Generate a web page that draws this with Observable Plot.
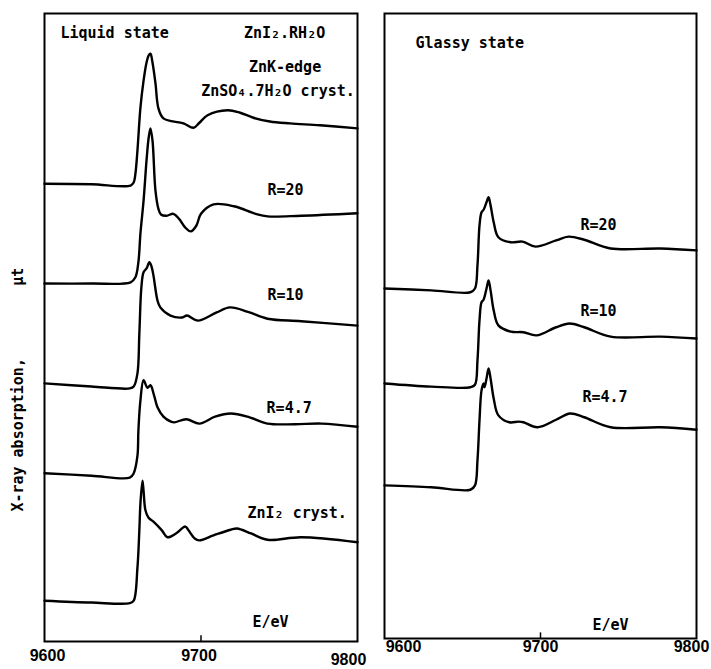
<!DOCTYPE html>
<html>
<head>
<meta charset="utf-8">
<script src="https://cdn.jsdelivr.net/npm/d3@7"></script>
<script src="https://cdn.jsdelivr.net/npm/@observablehq/plot@0.6"></script>
<style>
  html, body { margin: 0; padding: 0; background: #fff; }
  #wrap { display: flex; width: 711px; height: 669px; }
  svg { overflow: visible; }
</style>
</head>
<body>
<div id="wrap"></div>
<script>
// ---- Data: X-ray absorption (arbitrary units, stacked) vs photon energy E/eV ----
const xTicks = [9600, 9700, 9800];

// Liquid state, ZnI2.RH2O, Zn K-edge
const liquidZnSO4 = [
  [9600,7.29],[9630,7.28],[9655,7.26],[9657,7.31],[9658.1,7.45],[9659.4,7.82],[9661.3,8.50],
  [9663.3,8.93],[9665.2,9.22],[9666.5,9.33],[9667.7,9.36],[9669,9.22],[9670.9,8.89],[9672.8,8.49],
  [9676,8.33],[9688.8,8.25],[9695.2,8.18],[9699,8.26],[9704.2,8.38],[9717,8.46],[9725,8.42],
  [9733.5,8.34],[9744,8.28],[9757,8.25],[9776,8.22],[9800,8.17]
];
const liquidR20 = [
  [9600,5.70],[9630,5.70],[9655,5.72],[9658.1,5.80],[9660,6.04],[9661.3,6.50],[9663.3,7.02],
  [9665.2,7.66],[9666.5,8.01],[9667.7,8.17],[9669,7.98],[9670.9,7.18],[9672.8,6.89],[9674.4,6.80],
  [9678,6.78],[9682.3,6.81],[9686,6.73],[9690,6.59],[9693.5,6.53],[9697,6.62],[9700,6.81],
  [9708,6.96],[9721,6.93],[9735,6.81],[9742.5,6.77],[9764,6.78],[9800,6.82]
];
const liquidR10 = [
  [9600,4.11],[9630,4.06],[9654.5,4.03],[9657,4.06],[9659.4,4.27],[9660.6,4.90],[9661.9,5.64],
  [9663.3,5.88],[9665.2,5.94],[9667,6.04],[9668.4,5.97],[9669.6,5.83],[9672.2,5.43],[9674,5.32],
  [9680.5,5.19],[9688,5.16],[9691,5.19],[9698,5.11],[9710,5.24],[9718.5,5.32],[9730,5.25],
  [9742.5,5.14],[9764,5.10],[9800,5.03]
];
const liquidR47 = [
  [9600,2.68],[9630,2.64],[9654.5,2.61],[9657,2.68],[9659.4,2.96],[9660,3.36],[9661.3,3.84],
  [9663.3,4.16],[9665.8,4.04],[9667.7,4.08],[9670,3.92],[9672.2,3.73],[9676,3.58],[9680.8,3.50],
  [9683,3.49],[9690.6,3.54],[9699,3.47],[9709,3.58],[9719,3.63],[9731,3.57],[9742.5,3.47],
  [9760,3.46],[9777,3.47],[9800,3.42]
];
const liquidZnI2 = [
  [9600,0.65],[9630,0.62],[9654.5,0.61],[9657,0.65],[9659.4,1.18],[9660.6,1.77],[9661.3,2.20],
  [9662.6,2.56],[9663.3,2.40],[9664.5,2.09],[9666.5,1.97],[9669.6,1.91],[9675,1.77],[9678.5,1.66],
  [9684,1.72],[9690,1.83],[9692,1.77],[9696,1.64],[9698.8,1.61],[9708,1.69],[9719,1.78],
  [9723,1.80],[9732,1.72],[9742.5,1.62],[9764,1.66],[9800,1.58]
];

// Glassy state
const glassyR20 = [
  [9600,5.60],[9630,5.57],[9655,5.54],[9658,5.60],[9659.6,5.97],[9660.9,6.61],[9662.2,6.82],
  [9663.5,6.86],[9665.4,6.98],[9666.7,7.06],[9668,6.93],[9670,6.66],[9673,6.42],[9680.8,6.34],
  [9688.5,6.35],[9696.8,6.27],[9710,6.37],[9718,6.43],[9728,6.38],[9745,6.24],[9777,6.24],[9800,6.21]
];
const glassyR10 = [
  [9600,4.08],[9630,4.03],[9655,4.02],[9658,4.06],[9659.6,4.45],[9660.9,5.09],[9662.2,5.38],
  [9663.5,5.42],[9665.4,5.60],[9666.7,5.73],[9668,5.57],[9670,5.25],[9673,5.01],[9681,4.91],
  [9689,4.90],[9697.4,4.85],[9710,4.98],[9718.6,5.04],[9728,4.98],[9745,4.83],[9777,4.83],[9800,4.80]
];
const glassyR47 = [
  [9600,2.45],[9630,2.42],[9655,2.38],[9658,2.45],[9659.6,2.85],[9660.9,3.49],[9662.2,3.97],
  [9663.5,4.08],[9664.1,4.02],[9665.4,4.16],[9666.7,4.32],[9668,4.16],[9670,3.84],[9673,3.57],
  [9680,3.46],[9686,3.47],[9689,3.46],[9698,3.38],[9710,3.50],[9719,3.60],[9728,3.54],
  [9745,3.38],[9777,3.38],[9800,3.34]
];

const liquidSeries = [liquidZnSO4, liquidR20, liquidR10, liquidR47, liquidZnI2];
const glassySeries = [glassyR20, glassyR10, glassyR47];

// ---- Drawing ----
const labelFont = "'DejaVu Sans Mono', monospace";
const txt = (s, x, y, opts = {}) =>
  Plot.text([s], {x: () => x, y: () => y, text: d => d, fontFamily: labelFont, fontWeight: "bold",
                  fontSize: 15, fill: "black", textAnchor: "start", ...opts});

function lines(series) {
  return series.map(s => Plot.line(s, {x: d => d[0], y: d => d[1], curve: "catmull-rom",
    stroke: "black", strokeWidth: 2.4, strokeLinejoin: "round"}));
}

// one axis mark per tick so each label can be nudged like in the original
function tickAxes(tickPadding, shifts) {
  return xTicks.map((t, i) => Plot.axisX({ticks: [t], tickSize: 0, tickPadding,
    tickFormat: d => String(d), dx: shifts[i][0], dy: shifts[i][1],
    fontFamily: "'Liberation Sans', Arial, sans-serif", fontWeight: "bold", fontSize: 16, label: null}));
}

function panel({width, marginLeft, marginRight, marginBottom, tickPadding, shifts, series, extra}) {
  return Plot.plot({
    width, height: 669,
    marginTop: 13, marginBottom, marginLeft, marginRight,
    x: {domain: [9600, 9800]},
    y: {domain: [0, 10], axis: null},
    style: {background: "white", overflow: "visible"},
    marks: [
      ...tickAxes(tickPadding, shifts),
      Plot.ruleX([9700], {y1: 0, y2: 0.09, stroke: "black", strokeWidth: 1.5}),
      ...lines(series),
      ...extra,
      Plot.frame({stroke: "black", strokeWidth: 2})
    ]
  });
}

const left = panel({
  width: 370, marginLeft: 44, marginRight: 13, marginBottom: 28, tickPadding: 8,
  shifts: [[3, 0], [-2, 0], [-9, 4]],
  series: liquidSeries,
  extra: [
    txt("Liquid state", 9610.2, 9.68),
    txt("ZnI₂.RH₂O", 9753.4, 9.68, {textAnchor: "middle"}),
    txt("ZnK-edge", 9753.7, 9.14, {textAnchor: "middle"}),
    txt("ZnSO₄.7H₂O cryst.", 9749.2, 8.77, {textAnchor: "middle"}),
    txt("R=20", 9742.5, 7.18),
    txt("R=10", 9742.5, 5.51),
    txt("R=4.7", 9741.9, 3.71),
    txt("ZnI₂ cryst.", 9729.7, 2.05),
    txt("E/eV", 9732.9, 0.30),
    Plot.text(["X-ray absorption,        μt"], {frameAnchor: "left", y: () => 4.01, text: d => d,
      rotate: -90, dx: -26, fontFamily: labelFont, fontWeight: "bold", fontSize: 15,
      fill: "black", textAnchor: "middle"})
  ]
});

const right = panel({
  width: 341, marginLeft: 14, marginRight: 15, marginBottom: 31, tickPadding: 2,
  shifts: [[19, 0], [0, 0], [-5, 0]],
  series: glassySeries,
  extra: [
    txt("Glassy state", 9619.9, 9.52),
    txt("R=20", 9725.6, 6.61),
    txt("R=10", 9725.6, 5.23),
    txt("R=4.7", 9726.9, 3.86),
    txt("E/eV", 9733.3, 0.21)
  ]
});

const wrap = document.getElementById("wrap");
wrap.appendChild(left);
wrap.appendChild(right);
</script>
</body>
</html>
